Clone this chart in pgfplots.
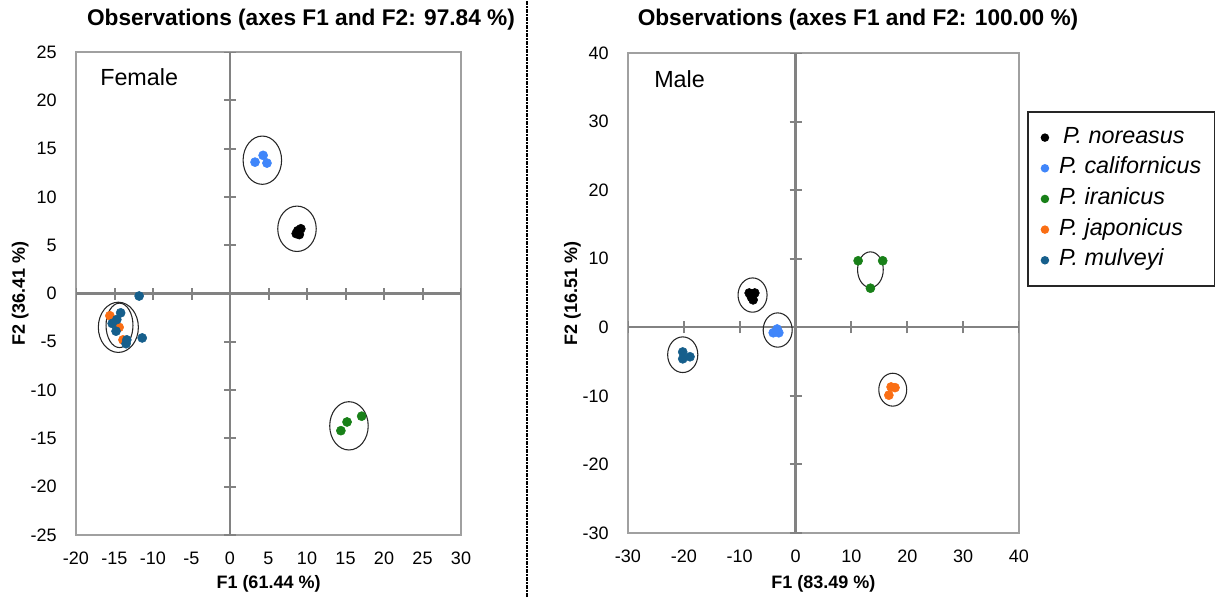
\documentclass[border=0pt]{standalone}
\usepackage{fontspec}
\setmainfont{Liberation Sans}
\usepackage{pgfplots}
\pgfplotsset{compat=1.18}
\definecolor{cNor}{RGB}{0,0,0}
\definecolor{cCal}{RGB}{64,134,250}
\definecolor{cIra}{RGB}{24,128,24}
\definecolor{cJap}{RGB}{250,110,20}
\definecolor{cMul}{RGB}{22,95,140}
\definecolor{frameg}{RGB}{160,160,160}
\definecolor{axg}{RGB}{130,130,130}
\tikzset{ell/.style={black!85, line width=0.8pt}}
\pgfplotsset{
  pca/.style={
    scale only axis, anchor=south west,
    axis line style={frameg, line width=0.8pt},
    major tick length=0pt,
    tick label style={font=\fontsize{13.5}{16}\selectfont, inner sep=0pt},
    xticklabel style={anchor=north, yshift=-12.75pt},
    yticklabel style={anchor=east, xshift=-14.25pt},
  },
  ser/.style={only marks, mark=*, mark size=3.4pt, color=#1, mark options={draw=#1, fill=#1}},
}
\begin{document}
\begin{tikzpicture}
\path[use as bounding box] (0,0) rectangle (913.5pt,447.75pt);
% ---------------- Female ----------------
\begin{axis}[pca, at={(57pt,46.5pt)}, width=288.75pt, height=362.25pt,
  xmin=-20, xmax=30, ymin=-25, ymax=25,
  xtick={-20,-15,-10,-5,0,5,10,15,20,25,30},
  xticklabels={-20,-15,-10,-5,0,5,10,15,20,25,30},
  ytick={-25,-20,-15,-10,-5,0,5,10,15,20,25},
  yticklabels={-25,-20,-15,-10,-5,0,5,10,15,20,25}]
\draw[axg, line width=1.8pt] (axis cs:-20,0) -- (axis cs:30,0);
\draw[axg, line width=1.8pt] (axis cs:0,-25) -- (axis cs:0,25);
\pgfplotsinvokeforeach{-20,-15,-10,-5,5,10,15,20,25,30}{
  \draw[axg, line width=1.5pt] ([yshift=-4.5pt]axis cs:#1,0) -- ([yshift=4.5pt]axis cs:#1,0);}
\pgfplotsinvokeforeach{-25,-20,-15,-10,-5,5,10,15,20,25}{
  \draw[axg, line width=1.5pt] ([xshift=-4.5pt]axis cs:0,#1) -- ([xshift=4.5pt]axis cs:0,#1);}
\addplot[ser=cNor] coordinates {(8.6,6.2) (9.2,6.7) (8.8,6.5) (9.0,6.1)};
\addplot[ser=cCal] coordinates {(3.25,13.6) (4.3,14.3) (4.8,13.5)};
\addplot[ser=cIra] coordinates {(14.4,-14.2) (15.2,-13.3) (17.1,-12.7)};
\addplot[ser=cJap] coordinates {(-15.6,-2.3) (-14.4,-3.5) (-13.9,-4.8)};
\addplot[ser=cMul] coordinates {(-11.8,-0.26) (-11.4,-4.6) (-14.2,-2.0) (-14.7,-2.7) (-15.3,-3.1) (-14.8,-3.9) (-13.4,-4.8) (-13.5,-5.2)};
\draw[ell] (axis cs:4.2,13.8) ellipse [x radius=2.5, y radius=2.5];
\draw[ell] (axis cs:8.7,6.7) ellipse [x radius=2.5, y radius=2.35];
\draw[ell] (axis cs:15.45,-13.7) ellipse [x radius=2.5, y radius=2.5];
\draw[ell] (axis cs:-14.5,-3.5) ellipse [x radius=2.6, y radius=2.6];
\draw[ell] (axis cs:-14.35,-3.3) ellipse [x radius=1.75, y radius=2.3];
\end{axis}
% ---------------- Male ----------------
\begin{axis}[pca, at={(471pt,48pt)}, width=293.25pt, height=360pt,
  xmin=-30, xmax=40, ymin=-30, ymax=40,
  xtick={-30,-20,-10,0,10,20,30,40},
  xticklabels={-30,-20,-10,0,10,20,30,40},
  ytick={-30,-20,-10,0,10,20,30,40},
  yticklabels={-30,-20,-10,0,10,20,30,40},
  legend style={at={(1.0215,0.879)}, anchor=north west, draw=black!85,
    line width=1.1pt, fill=white,
    font=\fontsize{17.5}{20}\selectfont\itshape,
    inner xsep=10pt, inner ysep=11pt, row sep=6.3pt,
    nodes={inner sep=0pt, text height=12.5pt, text depth=4.2pt}},
  legend cell align=left,
  legend image code/.code={\draw[#1, mark size=2.6pt] plot coordinates {(0pt,0pt)};
    \path[draw=none, fill=none] (-2.6pt,0pt) -- (10.6pt,0pt);}]
\draw[axg, line width=1.8pt] (axis cs:-30,0) -- (axis cs:40,0);
\draw[axg, line width=1.8pt] (axis cs:0,-30) -- (axis cs:0,40);
\pgfplotsinvokeforeach{-30,-20,-10,10,20,30,40}{
  \draw[axg, line width=1.5pt] ([yshift=-4.5pt]axis cs:#1,0) -- ([yshift=4.5pt]axis cs:#1,0);
  \draw[axg, line width=1.5pt] ([xshift=-4.5pt]axis cs:0,#1) -- ([xshift=4.5pt]axis cs:0,#1);}
\addplot[ser=cNor] coordinates {(-8.3,5.0) (-7.3,5.0) (-7.6,4.0) (-7.9,4.4)};
\addlegendentry{\hspace{3pt}P. noreasus}
\addplot[ser=cCal] coordinates {(-3.3,-0.25) (-4.0,-0.8) (-3.0,-0.8)};
\addlegendentry{P. californicus}
\addplot[ser=cIra] coordinates {(11.2,9.7) (15.6,9.7) (13.4,5.7)};
\addlegendentry{P. iranicus}
\addplot[ser=cJap] coordinates {(17.1,-8.7) (17.8,-8.8) (16.7,-9.9)};
\addlegendentry{P. japonicus}
\addplot[ser=cMul] coordinates {(-20.2,-3.6) (-18.9,-4.3) (-20.2,-4.6)};
\addlegendentry{P. mulveyi}
\draw[ell] (axis cs:-7.7,4.7) ellipse [x radius=2.6, y radius=2.5];
\draw[ell] (axis cs:-3.2,-0.4) ellipse [x radius=2.6, y radius=2.5];
\draw[ell] (axis cs:-20.2,-4.0) ellipse [x radius=2.7, y radius=2.6];
\draw[ell] (axis cs:13.4,8.4) ellipse [x radius=2.3, y radius=2.6];
\draw[ell] (axis cs:17.4,-9.1) ellipse [x radius=2.5, y radius=2.4];
\end{axis}
% ---------------- text ----------------
\node[anchor=base, font=\fontsize{17}{20}\selectfont\bfseries] at (225.75pt,428.25pt) {Observations (axes F1 and F2: 97.84 \%)};
\node[anchor=base, font=\fontsize{17}{20}\selectfont\bfseries] at (643.5pt,428.25pt) {Observations (axes F1 and F2: 100.00 \%)};
\node[anchor=base, font=\fontsize{13.5}{16}\selectfont\bfseries] at (201.4pt,6.4pt) {F1 (61.44 \%)};
\node[anchor=base, font=\fontsize{13.5}{16}\selectfont\bfseries] at (617.6pt,6.4pt) {F1 (83.49 \%)};
\node[anchor=base, rotate=90, font=\fontsize{13.5}{16}\selectfont\bfseries] at (18.75pt,227.6pt) {F2 (36.41 \%)};
\node[anchor=base, rotate=90, font=\fontsize{13.5}{16}\selectfont\bfseries] at (432.75pt,227.6pt) {F2 (16.51 \%)};
\node[anchor=base west, inner sep=0pt, font=\fontsize{17.5}{20}\selectfont] at (75pt,383.25pt) {Female};
\node[anchor=base west, inner sep=0pt, font=\fontsize{17.5}{20}\selectfont] at (490.5pt,381.75pt) {Male};
\draw[black, line width=0.8pt, dash pattern=on 3pt off 1pt on 1pt off 1pt] (395.25pt,0pt) -- (395.25pt,447.75pt);
\end{tikzpicture}
\end{document}
